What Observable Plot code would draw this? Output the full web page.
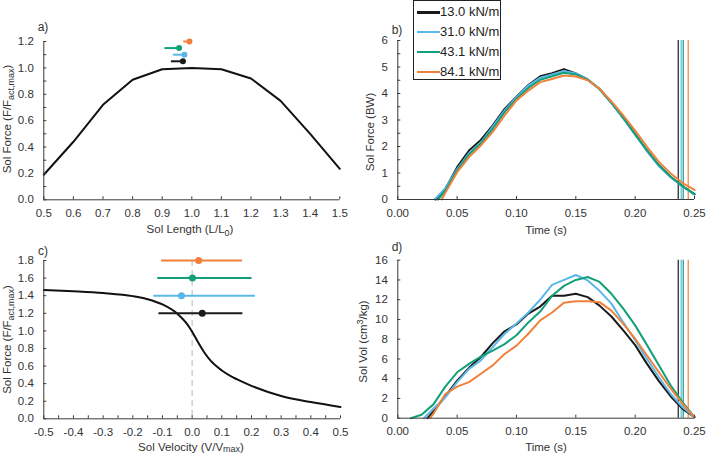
<!DOCTYPE html>
<html><head><meta charset="utf-8">
<script src="https://cdn.jsdelivr.net/npm/d3@7"></script>
<script src="https://cdn.jsdelivr.net/npm/@observablehq/plot@0.6"></script>
<style>
body{margin:0;background:#fff;font-family:"Liberation Sans",Arial,sans-serif;}
#chart{position:relative;width:708px;height:458px;overflow:hidden;background:#fff;}
#legend{position:absolute;left:413px;top:0px;width:88px;height:80px;border:1px solid #222;background:#fff;box-sizing:border-box;font-size:13px;color:#222;}
.lrow{position:absolute;left:0;height:18px;white-space:nowrap;}
.lrow span.sw{position:absolute;left:3px;top:8px;width:23px;height:2.5px;}
.lrow span.lt{position:absolute;left:26px;top:1px;line-height:15px;}
</style></head>
<body>
<div id="chart"><div id="legend"></div></div>
<script>
// ---------- series / categories ----------
const stiffness = ["13.0 kN/m", "31.0 kN/m", "43.1 kN/m", "84.1 kN/m"];
const COLORS = ["#1a1a1a", "#5bb7ea", "#12a07a", "#f0803a"];

// a) force-length
const aLength = [0.5, 0.6, 0.7, 0.8, 0.9, 1.0, 1.1, 1.2, 1.3, 1.4, 1.5];
const aForce  = [0.19, 0.44, 0.72, 0.91, 0.99, 1.0, 0.99, 0.92, 0.75, 0.50, 0.235];
const aBarY    = [1.05, 1.10, 1.15, 1.20];
const aBarLo   = [0.931, 0.938, 0.909, 0.973];
const aBarMean = [0.970, 0.975, 0.957, 0.992];

// b) soleus force
const bTimes = [0.04, 0.05, 0.06, 0.07, 0.08, 0.09, 0.10, 0.11, 0.12, 0.13, 0.14, 0.15, 0.16, 0.17, 0.18, 0.19, 0.20, 0.21, 0.22, 0.23, 0.24, 0.25];
const bStart = [0.032, 0.031, 0.034, 0.037];
const bForce13 = [0.40, 1.22, 1.85, 2.25, 2.80, 3.42, 3.88, 4.32, 4.65, 4.77, 4.92, 4.76, 4.53, 4.17, 3.65, 3.08, 2.47, 1.85, 1.28, 0.85, 0.50, 0.20];
const bForce31 = [0.42, 1.15, 1.75, 2.15, 2.75, 3.36, 3.86, 4.30, 4.60, 4.72, 4.85, 4.76, 4.53, 4.17, 3.64, 3.06, 2.44, 1.82, 1.26, 0.84, 0.48, 0.18];
const bForce43 = [0.33, 1.10, 1.70, 2.12, 2.67, 3.30, 3.80, 4.21, 4.52, 4.65, 4.78, 4.72, 4.52, 4.17, 3.66, 3.08, 2.47, 1.85, 1.30, 0.86, 0.50, 0.20];
const bForce84 = [0.25, 1.03, 1.60, 2.04, 2.55, 3.17, 3.74, 4.11, 4.43, 4.55, 4.68, 4.64, 4.50, 4.18, 3.70, 3.17, 2.60, 1.99, 1.42, 0.98, 0.62, 0.36];
const endTimes = [0.2363, 0.2388, 0.2405, 0.2447];

// c) force-velocity
const cVel   = [-0.5, -0.4, -0.3, -0.2, -0.15, -0.1, -0.05, -0.02, 0, 0.02, 0.04, 0.06, 0.1, 0.15, 0.2, 0.3, 0.4, 0.5];
const cForce = [1.465, 1.45, 1.43, 1.395, 1.36, 1.30, 1.195, 1.09, 0.99, 0.87, 0.76, 0.67, 0.55, 0.45, 0.375, 0.26, 0.19, 0.135];
const cBarY    = [1.2, 1.4, 1.6, 1.8];
const cBarMean = [0.034, -0.036, 0.001, 0.022];
const cBarLo   = [-0.112, -0.129, -0.116, -0.103];
const cBarHi   = [0.171, 0.213, 0.202, 0.170];

// d) soleus volume  [time, value]
const dVol13 = [[0.025,0],[0.03,0.7],[0.04,2.2],[0.05,3.8],[0.06,5.1],[0.07,6.2],[0.08,7.6],[0.09,8.8],[0.10,9.5],[0.11,10.6],[0.12,11.3],[0.13,12.4],[0.14,12.4],[0.15,12.6],[0.16,12.26],[0.17,11.4],[0.18,10.3],[0.19,8.9],[0.20,7.4],[0.21,5.5],[0.22,3.75],[0.23,2.2],[0.24,0.95],[0.25,0.1]];
const dVol31 = [[0.022,0],[0.03,0.95],[0.04,2.1],[0.05,3.65],[0.06,5.0],[0.07,5.85],[0.08,7.2],[0.09,8.55],[0.10,9.6],[0.11,10.7],[0.12,12.0],[0.13,13.5],[0.14,14.0],[0.15,14.5],[0.16,13.95],[0.17,12.9],[0.18,11.6],[0.19,9.7],[0.20,7.9],[0.21,6.0],[0.22,4.15],[0.23,2.45],[0.24,1.1],[0.25,0.1]];
const dVol43 = [[0.011,0],[0.02,0.35],[0.03,1.4],[0.04,3.2],[0.05,4.65],[0.06,5.5],[0.07,6.25],[0.08,6.85],[0.09,7.5],[0.10,8.4],[0.11,9.7],[0.12,10.8],[0.13,12.4],[0.14,13.4],[0.15,14.0],[0.16,14.3],[0.17,13.8],[0.18,12.6],[0.19,11.1],[0.20,9.4],[0.21,7.4],[0.22,5.35],[0.23,3.3],[0.24,1.6],[0.25,0.1]];
const dVol84 = [[0.027,0],[0.03,0.45],[0.04,2.45],[0.05,3.2],[0.06,3.65],[0.07,4.5],[0.08,5.35],[0.09,6.5],[0.10,7.35],[0.11,8.55],[0.12,9.9],[0.13,10.7],[0.14,11.7],[0.15,11.85],[0.16,11.85],[0.17,11.75],[0.18,10.9],[0.19,9.55],[0.20,8.05],[0.21,6.35],[0.22,4.65],[0.23,3.0],[0.24,1.45],[0.25,0.1]];

// ticks
const aXTicks = [0.5, 0.6, 0.7, 0.8, 0.9, 1.0, 1.1, 1.2, 1.3, 1.4, 1.5];
const aYTicks = [0, 0.2, 0.4, 0.6, 0.8, 1.0, 1.2];
const aYMinor = [0, 0.1, 0.2, 0.3, 0.4, 0.5, 0.6, 0.7, 0.8, 0.9, 1.0, 1.1, 1.2];
const bXTicks = [0, 0.05, 0.10, 0.15, 0.20, 0.25];
const bYTicks = [0, 1, 2, 3, 4, 5, 6];
const bYMinor = [0, 0.5, 1, 1.5, 2, 2.5, 3, 3.5, 4, 4.5, 5, 5.5, 6];
const cXTicks = [-0.5, -0.4, -0.3, -0.2, -0.1, 0, 0.1, 0.2, 0.3, 0.4, 0.5];
const cXMinor = [-0.5, -0.45, -0.4, -0.35, -0.3, -0.25, -0.2, -0.15, -0.1, -0.05, 0, 0.05, 0.1, 0.15, 0.2, 0.25, 0.3, 0.35, 0.4, 0.45, 0.5];
const cYTicks = [0, 0.2, 0.4, 0.6, 0.8, 1.0, 1.2, 1.4, 1.6, 1.8];
const dYTicks = [0, 2, 4, 6, 8, 10, 12, 14, 16];

// ---------- build tables ----------
const bSeries = [bForce13, bForce31, bForce43, bForce84];
const bRows = bSeries.flatMap((vals, i) => [{t: bStart[i], v: 0, s: stiffness[i]}, ...bTimes.map((t, j) => ({t, v: vals[j], s: stiffness[i]}))]);
const dRows = [dVol13, dVol31, dVol43, dVol84].flatMap((arr, i) => arr.map(([t, v]) => ({t, v, s: stiffness[i]})));
const endRows = endTimes.map((t, i) => ({t, s: stiffness[i]}));
const aCurve = aLength.map((x, i) => ({x, y: aForce[i]}));
const cCurve = cVel.map((x, i) => ({x, y: cForce[i]}));
const aBars = stiffness.map((s, i) => ({s, y: aBarY[i], lo: aBarLo[i], m: aBarMean[i]}));
const cBars = stiffness.map((s, i) => ({s, y: cBarY[i], lo: cBarLo[i], hi: cBarHi[i], m: cBarMean[i]}));

const FONT = '"Liberation Sans", Arial, sans-serif';
const AXIS = "#3a3a3a";
const TXT = "#333";
const chart = document.getElementById("chart");
const f1 = d => d.toFixed(1);
const f2 = d => d.toFixed(2);
const f0 = d => d.toFixed(0);

function title(svg, x, y, rotate, parts, size) {
  const t = d3.select(svg).append("text")
    .attr("transform", `translate(${x},${y})` + (rotate ? ` rotate(${rotate})` : ""))
    .attr("text-anchor", "middle").attr("fill", TXT)
    .style("font-size", size + "px").style("font-family", FONT);
  let shift = 0;
  parts.forEach(p => {
    const ts = t.append("tspan").text(p[0]);
    const target = p[1] === "sub" ? 3 : p[1] === "sup" ? -4.5 : p[1] === "small" ? 1 : 0;
    if (p[1]) ts.attr("font-size", (size * 0.78) + "px");
    if (target !== shift) { ts.attr("dy", target - shift); shift = target; }
  });
}

function panel(o) {
  const marks = [
    ...o.marks,
    Plot.ruleX([o.xDomain[0]], {stroke: AXIS, strokeWidth: 1}),
    Plot.ruleY([o.yDomain[0]], {stroke: AXIS, strokeWidth: 1}),
    Plot.axisX({ticks: o.xMinor || o.xTicks, tickSize: -3, fill: "none", stroke: AXIS}),
    Plot.axisX({ticks: o.xTicks, tickSize: 0, tickPadding: 9, tickFormat: o.xFmt, fill: TXT, label: null}),
    Plot.axisY({ticks: o.yMinor || o.yTicks, tickSize: -3, fill: "none", stroke: AXIS}),
    Plot.axisY({ticks: o.yTicks, tickSize: 0, tickPadding: 10, tickFormat: o.yFmt, fill: TXT, label: null})
  ];
  const svg = Plot.plot({
    width: 354, height: o.height,
    marginTop: o.mt, marginBottom: o.mb, marginLeft: 43.3, marginRight: o.mr,
    style: {background: "transparent", overflow: "visible", fontFamily: FONT, fontSize: "11.5px", color: TXT},
    x: {domain: o.xDomain},
    y: {domain: o.yDomain},
    color: {domain: stiffness, range: COLORS},
    marks
  });
  svg.style.position = "absolute";
  svg.style.left = o.left + "px";
  svg.style.top = o.top + "px";
  d3.select(svg).append("text").attr("x", 43).attr("y", o.tagY).attr("fill", TXT)
    .style("font-size", "12px").style("font-family", FONT).text(o.tag);
  title(svg, o.xtX, o.xtY, 0, o.xTitle, 11.5);
  title(svg, o.ytX, o.ytY, -90, o.yTitle, 11.5);
  chart.insertBefore(svg, document.getElementById("legend"));
}

// a)
panel({
  left: 0, top: 0, height: 240, mt: 41, mb: 40.7, mr: 14.7,
  xDomain: [0.5, 1.5], yDomain: [0, 1.2],
  xTicks: aXTicks, yTicks: aYTicks, yMinor: aYMinor, xFmt: f1, yFmt: f1,
  tag: "a)", tagY: 31,
  xTitle: [["Sol Length (L/L"], ["0", "sub"], [")"]], xtX: 190, xtY: 233,
  yTitle: [["Sol Force (F/F"], ["act,max", "sub"], [")"]], ytX: 11, ytY: 119,
  marks: [
    Plot.line(aCurve, {x: "x", y: "y", stroke: "#111", strokeWidth: 2}),
    Plot.ruleY(aBars, {y: "y", x1: "lo", x2: "m", stroke: "s", strokeWidth: 2}),
    Plot.dot(aBars, {x: "m", y: "y", fill: "s", r: 3})
  ]
});

// b)
panel({
  left: 354, top: 0, height: 240, mt: 40, mb: 41, mr: 14,
  xDomain: [0, 0.25], yDomain: [0, 6],
  xTicks: bXTicks, yTicks: bYTicks, yMinor: bYMinor, xFmt: f2, yFmt: f0,
  tag: "b)", tagY: 34,
  xTitle: [["Time (s)"]], xtX: 192, xtY: 234,
  yTitle: [["Sol Force (BW)"]], ytX: 20, ytY: 132,
  marks: [
    Plot.ruleX(endRows, {x: "t", stroke: "s", strokeWidth: 1.2}),
    Plot.line(bRows, {x: "t", y: "v", stroke: "s", z: "s", strokeWidth: 2})
  ]
});

// c)
panel({
  left: 0, top: 240, height: 218, mt: 20, mb: 39.7, mr: 14,
  xDomain: [-0.5, 0.5], yDomain: [0, 1.8],
  xTicks: cXTicks, xMinor: cXMinor, yTicks: cYTicks, xFmt: f1, yFmt: f1,
  tag: "c)", tagY: 14.5,
  xTitle: [["Sol Velocity (V/V"], ["max", "small"], [")"]], xtX: 191, xtY: 210.5,
  yTitle: [["Sol Force (F/F"], ["act,max", "sub"], [")"]], ytX: 11, ytY: 99.5,
  marks: [
    Plot.ruleX([0], {stroke: "#c4c4c4", strokeWidth: 1.2, strokeDasharray: "6,4"}),
    Plot.line(cCurve, {x: "x", y: "y", stroke: "#111", strokeWidth: 2, curve: "monotone-x"}),
    Plot.ruleY(cBars, {y: "y", x1: "lo", x2: "hi", stroke: "s", strokeWidth: 2}),
    Plot.dot(cBars, {x: "m", y: "y", fill: "s", r: 3.5})
  ]
});

// d)
panel({
  left: 354, top: 240, height: 218, mt: 19.7, mb: 40.3, mr: 14,
  xDomain: [0, 0.25], yDomain: [0, 16],
  xTicks: bXTicks, yTicks: dYTicks, xFmt: f2, yFmt: f0,
  tag: "d)", tagY: 11,
  xTitle: [["Time (s)"]], xtX: 192, xtY: 210.5,
  yTitle: [["Sol Vol (cm"], ["3", "sup"], ["/kg)"]], ytX: 13, ytY: 101.5,
  marks: [
    Plot.ruleX(endRows, {x: "t", stroke: "s", strokeWidth: 1.2}),
    Plot.line(dRows, {x: "t", y: "v", stroke: "s", z: "s", strokeWidth: 2})
  ]
});

// legend
const legend = d3.select("#legend");
stiffness.forEach((s, i) => {
  const row = legend.append("div").attr("class", "lrow").style("top", (2 + i * 19.9) + "px");
  row.append("span").attr("class", "sw").style("background", COLORS[i]);
  row.append("span").attr("class", "lt").text(s);
});
</script>
</body></html>
